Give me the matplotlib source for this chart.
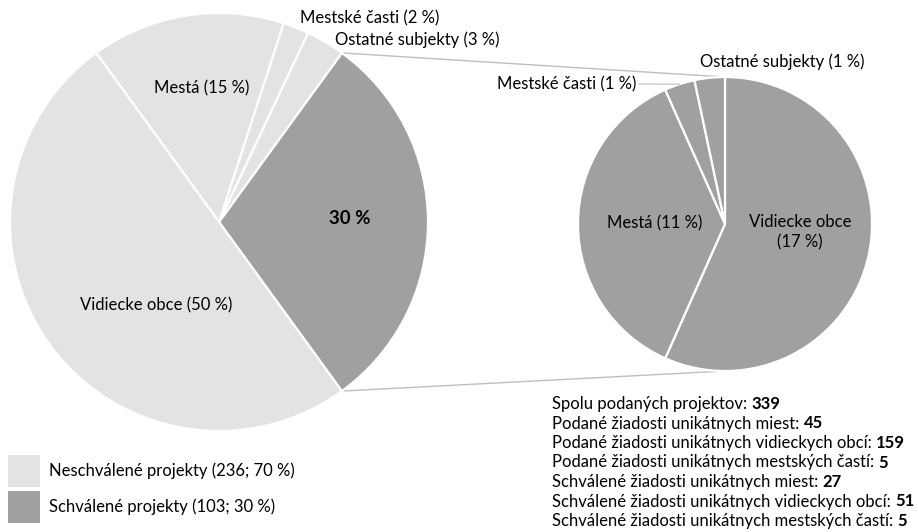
import numpy as np
import matplotlib.pyplot as plt
from matplotlib.patches import Rectangle

plt.rcParams['font.family'] = ['Lato', 'DejaVu Sans']

# podiely v kolaci vlavo (od schvalenych proti smeru hodin)
left_names = ['Schválené projekty', 'Ostatné subjekty', 'Mestské časti', 'Mestá', 'Vidiecke obce']
left_pct = [30, 3, 2, 15, 50]

# rozpad schvalenych projektov (vpravo, v smere hodin od vrchu)
right_names = ['Vidiecke obce', 'Mestá', 'Mestské časti', 'Ostatné subjekty']
right_pct = [17, 11, 1, 1]

legend_names = ['Neschválené projekty', 'Schválené projekty']
legend_counts = [236, 103]
legend_pct = [70, 30]

summary_text = [
    'Spolu podaných projektov: ',
    'Podané žiadosti unikátnych miest: ',
    'Podané žiadosti unikátnych vidieckych obcí: ',
    'Podané žiadosti unikátnych mestských častí: ',
    'Schválené žiadosti unikátnych miest: ',
    'Schválené žiadosti unikátnych vidieckych obcí: ',
    'Schválené žiadosti unikátnych mestských častí: ',
]
summary_values = [339, 45, 159, 5, 27, 51, 5]

light = '#e3e3e3'
dark = '#a0a0a0'
H = 532

fig = plt.figure(figsize=(9.18, 5.32), dpi=100)
ax = fig.add_axes([0, 0, 1, 1])

# lavy kolac
lc, lr = (219, H - 222), 209
left_colors = [dark] + [light] * 4
wl, _ = ax.pie(left_pct, colors=left_colors, startangle=-54, counterclock=True,
               center=lc, radius=lr,
               wedgeprops=dict(edgecolor='white', linewidth=1.6))

# pravy kolac
rc, rr = (725, H - 224), 147
wr, _ = ax.pie(right_pct, colors=[dark] * 4, startangle=90, counterclock=False,
               center=rc, radius=rr,
               wedgeprops=dict(edgecolor='white', linewidth=1.6))

# spojovacie ciary medzi kolacmi
a1 = np.deg2rad(wl[0].theta2)
a2 = np.deg2rad(wl[0].theta1)
ax.plot([lc[0] + lr * np.cos(a1), rc[0]], [lc[1] + lr * np.sin(a1), rc[1] + rr],
        color='#bfbfbf', lw=1, zorder=0)
ax.plot([lc[0] + lr * np.cos(a2), rc[0]], [lc[1] + lr * np.sin(a2), rc[1] - rr],
        color='#bfbfbf', lw=1, zorder=0)

fs = 12
# popisky laveho kolaca
ax.text(350, H - 218, f'{left_pct[0]} %', ha='center', va='center', fontsize=fs + 1.5, fontweight='bold')
ax.text(417, H - 40, f'{left_names[1]} ({left_pct[1]} %)', ha='center', va='center', fontsize=fs)
ax.text(370, H - 18, f'{left_names[2]} ({left_pct[2]} %)', ha='center', va='center', fontsize=fs)
ax.text(202, H - 88, f'{left_names[3]} ({left_pct[3]} %)', ha='center', va='center', fontsize=fs)
ax.text(156, H - 305, f'{left_names[4]} ({left_pct[4]} %)', ha='center', va='center', fontsize=fs)

# popisky praveho kolaca
ax.text(800, H - 232, f'{right_names[0]}\n({right_pct[0]} %)', ha='center', va='center',
        fontsize=fs, linespacing=1.3)
ax.text(655, H - 223, f'{right_names[1]} ({right_pct[1]} %)', ha='center', va='center', fontsize=fs)
ax.text(636, H - 84, f'{right_names[2]} ({right_pct[2]} %)', ha='right', va='center', fontsize=fs)
ax.text(782, H - 62, f'{right_names[3]} ({right_pct[3]} %)', ha='center', va='center', fontsize=fs)
am = np.deg2rad((wr[2].theta1 + wr[2].theta2) / 2)
ax.plot([639, rc[0] + rr * np.cos(am)], [H - 84, rc[1] + rr * np.sin(am)],
        color='#bfbfbf', lw=0.8)

# suhrnne cisla
for i, (s, v) in enumerate(zip(summary_text, summary_values)):
    t = ax.text(552, H - 404 - i * 19.5, s, ha='left', va='center', fontsize=fs)
    ax.annotate(str(v), xy=(1, 0), xycoords=t, ha='left', va='bottom',
                fontsize=fs, fontweight='bold')

# legenda
for i, (n, c, p, col) in enumerate(zip(legend_names, legend_counts, legend_pct, [light, dark])):
    yc = H - 471 - i * 36
    ax.add_patch(Rectangle((8, yc - 16), 32, 32, facecolor=col, edgecolor='none'))
    ax.text(49, yc, f'{n} ({c}; {p} %)', ha='left', va='center', fontsize=fs)

ax.set_xlim(0, 918)
ax.set_ylim(0, H)
ax.set_aspect('equal')
ax.axis('off')
fig.savefig('out.png', dpi=100, facecolor='white')
